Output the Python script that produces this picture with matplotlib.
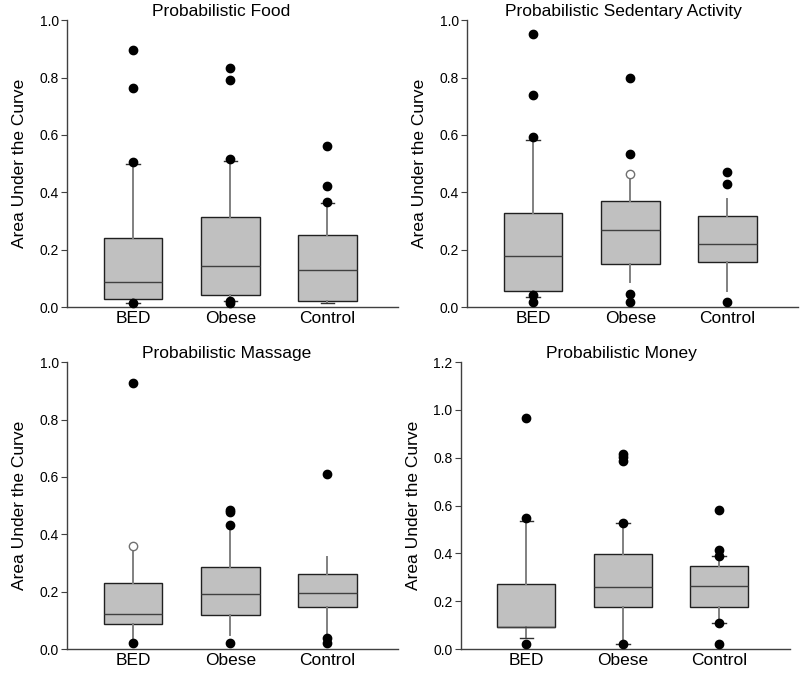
import matplotlib
matplotlib.use("Agg")
import matplotlib.pyplot as plt
import numpy as np

plt.rcParams['font.family'] = ['Liberation Sans', 'DejaVu Sans']

groups = ["BED", "Obese", "Control"]
titles = ["Probabilistic Food", "Probabilistic Sedentary Activity",
          "Probabilistic Massage", "Probabilistic Money"]

# Probabilistic Food
food_q1 = [0.029, 0.041, 0.020]
food_med = [0.087, 0.144, 0.130]
food_q3 = [0.240, 0.313, 0.252]
food_lo = [0.014, 0.020, 0.016]
food_hi = [0.500, 0.510, 0.363]
food_out = [[0.895, 0.765, 0.506, 0.016],
            [0.835, 0.790, 0.517, 0.020, 0.016],
            [0.562, 0.422, 0.366]]
food_open = [[], [], []]

# Probabilistic Sedentary Activity
sed_q1 = [0.055, 0.150, 0.158]
sed_med = [0.179, 0.269, 0.220]
sed_q3 = [0.329, 0.371, 0.316]
sed_lo = [0.037, 0.087, 0.055]
sed_hi = [0.584, 0.465, 0.378]
sed_out = [[0.952, 0.741, 0.594, 0.041, 0.017],
           [0.800, 0.534, 0.047, 0.017],
           [0.471, 0.429, 0.017]]
sed_open = [[], [0.465], []]

# Probabilistic Massage
mas_q1 = [0.086, 0.120, 0.145]
mas_med = [0.123, 0.193, 0.195]
mas_q3 = [0.229, 0.287, 0.262]
mas_lo = [0.020, 0.049, 0.037]
mas_hi = [0.359, 0.433, 0.320]
mas_out = [[0.929, 0.020],
           [0.485, 0.476, 0.433, 0.020],
           [0.610, 0.037, 0.020]]
mas_open = [[0.359], [], []]

# Probabilistic Money
mon_q1 = [0.091, 0.174, 0.177]
mon_med = [0.091, 0.258, 0.264]
mon_q3 = [0.271, 0.398, 0.346]
mon_lo = [0.047, 0.020, 0.107]
mon_hi = [0.536, 0.526, 0.387]
mon_out = [[0.968, 0.547, 0.020],
           [0.815, 0.805, 0.787, 0.527, 0.020],
           [0.583, 0.414, 0.391, 0.107, 0.020]]
mon_open = [[], [], []]

panels = [
    (food_q1, food_med, food_q3, food_lo, food_hi, food_out, food_open),
    (sed_q1, sed_med, sed_q3, sed_lo, sed_hi, sed_out, sed_open),
    (mas_q1, mas_med, mas_q3, mas_lo, mas_hi, mas_out, mas_open),
    (mon_q1, mon_med, mon_q3, mon_lo, mon_hi, mon_out, mon_open),
]

# layout / style (not data)
axes_rects = [[0.084, 0.545, 0.414, 0.425],
              [0.584, 0.545, 0.414, 0.425],
              [0.084, 0.0385, 0.414, 0.425],
              [0.576, 0.0385, 0.411, 0.425]]
ymaxes = [1.0, 1.0, 1.0, 1.2]
title_x = [0.465, 0.471, 0.48, 0.49]
cap_w = [[0.14, 0.14, 0.14], [0.14, 0, 0], [0, 0, 0], [0.14, 0.14, 0.14]]

fig = plt.figure(figsize=(8, 6.75), dpi=100)

for i, (q1, med, q3, lo, hi, out, opn) in enumerate(panels):
    ax = fig.add_axes(axes_rects[i])
    stats = []
    for j in range(len(groups)):
        stats.append(dict(q1=q1[j], med=med[j], q3=q3[j],
                          whislo=lo[j], whishi=hi[j], fliers=out[j]))
    pos = np.arange(1, len(groups) + 1)
    ax.bxp(stats, positions=pos, widths=0.6, patch_artist=True,
           capwidths=cap_w[i],
           boxprops=dict(facecolor='#c0c0c0', edgecolor='#202020', linewidth=1.0),
           medianprops=dict(color='#404040', linewidth=1.0),
           whiskerprops=dict(color='#808080', linewidth=1.4),
           capprops=dict(color='#303030', linewidth=1.0),
           flierprops=dict(marker='o', markerfacecolor='black', markeredgecolor='black',
                           markersize=6, linestyle='none', clip_on=False, zorder=4))
    for j, vals in enumerate(opn):
        if vals:
            ax.plot([pos[j]] * len(vals), vals, 'o', mfc='white', mec='#707070',
                    ms=6, mew=1.0, zorder=4, clip_on=False)
    ax.set_xlim(0.32, 3.73)
    ax.set_ylim(0, ymaxes[i])
    ticks = np.arange(0, ymaxes[i] + 0.01, 0.2)
    ax.set_yticks(ticks)
    ax.set_yticklabels(["%.1f" % v for v in ticks])
    ax.set_xticks(pos)
    ax.set_xticklabels(groups, fontsize=12.5)
    ax.tick_params(axis='x', length=0, pad=3)
    ax.tick_params(axis='y', length=4, width=0.8, labelsize=10, pad=2, color='#404040')
    ax.spines['top'].set_visible(False)
    ax.spines['right'].set_visible(False)
    for s in ['left', 'bottom']:
        ax.spines[s].set_color('#404040')
        ax.spines[s].set_linewidth(1.0)
    ax.set_ylabel("Area Under the Curve", fontsize=12.5, labelpad=9)
    ax.set_title(titles[i], fontsize=12.5, x=title_x[i], pad=3)

fig.savefig("out.png", dpi=100)
